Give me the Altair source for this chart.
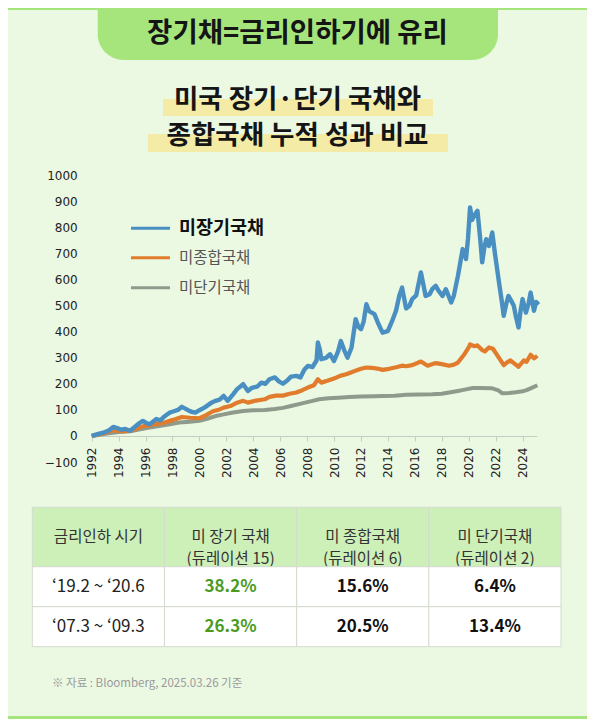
import altair as alt
import pandas as pd

# ---------------- data ----------------
series_names = ["미장기국채", "미종합국채", "미단기국채"]
series_colors = ["#4A8FC1", "#E07C2C", "#8F9A8C"]

long_years = [1992.0, 1992.5, 1993.0, 1993.3, 1993.6, 1993.9, 1994.2, 1994.5, 1994.85, 1995.2,
              1995.5, 1995.8, 1996.05, 1996.3, 1996.55, 1996.8, 1997.1, 1997.4, 1997.8, 1998.1,
              1998.4, 1998.7, 1998.95, 1999.2, 1999.4, 1999.7, 2000.0, 2000.4, 2000.9, 2001.2,
              2001.5, 2001.8, 2002.1, 2002.5, 2002.8, 2003.25, 2003.6, 2003.9, 2004.3, 2004.6,
              2004.9, 2005.2, 2005.6, 2005.9, 2006.2, 2006.5, 2006.8, 2007.2, 2007.5, 2007.8,
              2008.05, 2008.4, 2008.7, 2008.8, 2008.95, 2009.05, 2009.4, 2009.7, 2010.0, 2010.3,
              2010.5, 2010.75, 2011.0, 2011.3, 2011.6, 2011.8, 2012.0, 2012.2, 2012.4, 2012.6,
              2013.0, 2013.3, 2013.6, 2013.8, 2014.0, 2014.3, 2014.6, 2014.85, 2015.05, 2015.35,
              2015.6, 2015.8, 2016.1, 2016.45, 2016.6, 2016.8, 2017.1, 2017.3, 2017.55, 2017.8,
              2018.05, 2018.3, 2018.7, 2018.9, 2019.2, 2019.55, 2019.8, 2019.95, 2020.1, 2020.25,
              2020.4, 2020.65, 2020.85, 2021.0, 2021.15, 2021.3, 2021.5, 2021.75, 2021.95, 2022.25,
              2022.45, 2022.6, 2022.8, 2022.95, 2023.15, 2023.35, 2023.5, 2023.7, 2023.85, 2024.0,
              2024.25, 2024.45, 2024.6, 2024.85, 2025.0, 2025.2]
long_vals = [0, 8, 15, 22, 35, 30, 24, 27, 20, 35,
             48, 58, 50, 45, 55, 65, 60, 75, 90, 95,
             100, 112, 105, 98, 93, 90, 99, 110, 128, 135,
             140, 154, 135, 160, 180, 199, 173, 185, 190, 205,
             200, 218, 225, 210, 201, 212, 228, 231, 225, 255,
             269, 265, 290, 359, 330, 295, 300, 314, 288, 325,
             365, 330, 301, 340, 449, 420, 410, 440, 506, 480,
             468, 430, 397, 400, 404, 440, 481, 540, 570, 490,
             500, 526, 540, 628, 590, 538, 545, 565, 577, 555,
             538, 564, 513, 540, 615, 718, 680, 760, 878, 830,
             846, 865, 760, 667, 720, 756, 730, 782, 700, 590,
             520, 462, 510, 538, 520, 500, 460, 417, 480, 526,
             474, 510, 551, 481, 515, 505]

agg_years = [1992.0, 1992.5, 1993.0, 1993.6, 1994.2, 1994.85, 1995.4, 1996.0, 1996.3, 1996.8,
             1997.3, 1997.8, 1998.2, 1998.7, 1999.3, 2000.0, 2000.5, 2001.0, 2001.5, 2001.8,
             2002.3, 2002.8, 2003.25, 2003.6, 2004.2, 2004.85, 2005.2, 2005.7, 2006.2, 2006.7,
             2007.2, 2007.6, 2008.05, 2008.5, 2008.8, 2009.05, 2009.5, 2010.15, 2010.5, 2010.9,
             2011.3, 2011.65, 2012.0, 2012.4, 2012.8, 2013.3, 2013.6, 2014.1, 2014.6, 2015.05,
             2015.35, 2015.8, 2016.45, 2016.95, 2017.55, 2018.0, 2018.55, 2018.9, 2019.2, 2019.65,
             2020.0, 2020.1, 2020.4, 2020.65, 2021.0, 2021.2, 2021.5, 2021.8, 2022.25, 2022.6,
             2022.9, 2023.1, 2023.4, 2023.7, 2024.1, 2024.3, 2024.6, 2024.85, 2025.1]
agg_vals = [0, 6, 12, 22, 18, 20, 30, 40, 41, 46,
            50, 58, 64, 73, 70, 68, 80, 95, 102, 109,
            115, 128, 135, 128, 136, 141, 150, 155, 155, 162,
            167, 175, 186, 195, 218, 205, 212, 224, 232, 237,
            245, 252, 258, 263, 262, 258, 254, 258, 264, 270,
            268, 272, 286, 270, 280, 276, 270, 274, 282, 312,
            340, 352, 345, 348, 330, 325, 340, 335, 300, 272,
            285, 290, 278, 266, 290, 285, 312, 298, 308]

short_years = [1992.0, 1993.0, 1994.0, 1994.85, 1995.5, 1996.3, 1997.0, 1997.8, 1998.5, 1999.3,
               2000.0, 2000.7, 2001.3, 2001.8, 2002.5, 2003.25, 2004.0, 2004.85, 2005.6, 2006.2,
               2006.8, 2007.7, 2008.4, 2008.9, 2009.6, 2010.3, 2011.15, 2012.0, 2013.0, 2013.6,
               2014.5, 2015.35, 2016.3, 2017.3, 2018.0, 2018.55, 2019.2, 2019.8, 2020.3, 2020.8,
               2021.75, 2022.2, 2022.5, 2023.0, 2023.5, 2024.0, 2024.25, 2024.6, 2025.1]
short_vals = [0, 8, 15, 18, 25, 32, 38, 45, 52, 55,
              58, 68, 78, 83, 90, 96, 99, 100, 104, 108,
              115, 126, 135, 141, 145, 147, 150, 152, 153, 154,
              155, 158, 159, 160, 162, 167, 173, 179, 184, 184,
              183, 175, 164, 165, 168, 172, 175, 183, 195]

y_ticks = [-100, 0, 100, 200, 300, 400, 500, 600, 700, 800, 900, 1000]
x_ticks = [1992, 1994, 1996, 1998, 2000, 2002, 2004, 2006, 2008, 2010,
           2012, 2014, 2016, 2018, 2020, 2022, 2024]

header_text = ["장기채=금리인하기에 유리"]
title_lines = ["미국 장기·단기 국채와", "종합국채 누적 성과 비교"]

table_cols = ["금리인하 시기", "미 장기 국채\n(듀레이션 15)", "미 종합국채\n(듀레이션 6)", "미 단기국채\n(듀레이션 2)"]
table_periods = ["‘19.2 ~ ‘20.6", "‘07.3 ~ ‘09.3"]
long_ret = ["38.2%", "26.3%"]
agg_ret = ["15.6%", "20.5%"]
short_ret = ["6.4%", "13.4%"]
source_note = ["※ 자료 : Bloomberg, 2025.03.26 기준"]

# ---------------- styling ----------------
KR = "Noto Sans CJK KR"
NUM = "DejaVu Sans"
BG = "#EBF9E3"
TAB = "#A6E57C"
HL = "#F4ECA6"
W, H = 579, 711

one = pd.DataFrame({"k": [0]})

# decorations
top_strip = alt.Chart(one).mark_rect(color=TAB).encode(
    x=alt.value(0), x2=alt.value(W), y=alt.value(0), y2=alt.value(2))
tab = alt.Chart(one).mark_rect(color=TAB, cornerRadiusBottomLeft=26, cornerRadiusBottomRight=26).encode(
    x=alt.value(89.7), x2=alt.value(490), y=alt.value(0), y2=alt.value(52))
bottom_strip = alt.Chart(one).mark_rect(color=TAB).encode(
    x=alt.value(0), x2=alt.value(W), y=alt.value(708), y2=alt.value(H))
hl1 = alt.Chart(one).mark_rect(color=HL).encode(
    x=alt.value(155), x2=alt.value(425), y=alt.value(91), y2=alt.value(108))
hl2 = alt.Chart(one).mark_rect(color=HL).encode(
    x=alt.value(140), x2=alt.value(440), y=alt.value(126), y2=alt.value(144))

head = alt.Chart(pd.DataFrame({"t": header_text})).mark_text(
    font=KR, fontSize=27.5, fontWeight="bold", color="#151515").encode(
    x=alt.value(289.5), y=alt.value(26), text="t:N")
t1 = alt.Chart(pd.DataFrame({"t": title_lines[:1]})).mark_text(
    font=KR, fontSize=26.5, fontWeight="bold", color="#151515").encode(
    x=alt.value(289.5), y=alt.value(91.5), text="t:N")
t2 = alt.Chart(pd.DataFrame({"t": title_lines[1:]})).mark_text(
    font=KR, fontSize=26.5, fontWeight="bold", color="#151515").encode(
    x=alt.value(289.5), y=alt.value(127.5), text="t:N")

# lines
frames = []
for name, ys, vs in zip(series_names, [long_years, agg_years, short_years], [long_vals, agg_vals, short_vals]):
    frames.append(pd.DataFrame({"year": ys, "value": vs, "series": name}))
lines_df = pd.concat(frames, ignore_index=True)

base = alt.Chart(lines_df).encode(
    x=alt.X("year:Q",
            scale=alt.Scale(domain=[1992, 2025.05], range=[83.7, 528.7], nice=False, zero=False),
            axis=alt.Axis(values=x_ticks, format="d", labelAngle=270, labelFont=NUM, labelFontSize=12,
                          labelColor="#222", tickColor="#C6CDC2", domainColor="#C6CDC2", tickSize=5,
                          labelPadding=6, grid=False, title=None, offset=-(H - 428), labelFlush=False,
                          labelOverlap=False)),
    y=alt.Y("value:Q",
            scale=alt.Scale(domain=[-100, 1000], range=[454, 167.7], nice=False, zero=False),
            axis=alt.Axis(values=y_ticks, format="d", labelFont=NUM, labelFontSize=12, labelColor="#222",
                          domain=False, ticks=False, grid=False, labelPadding=14.5, offset=-83.7,
                          title=None, labelFlush=False, labelOverlap=False)),
    color=alt.Color("series:N", scale=alt.Scale(domain=series_names, range=series_colors), legend=None),
)
widths = {"미장기국채": 4.4, "미종합국채": 4.2, "미단기국채": 4.0}
lines = alt.layer(*[
    base.transform_filter(alt.datum.series == name).mark_line(strokeWidth=widths[name], strokeJoin="round")
    for name in reversed(series_names)
])

# manual legend
leg = []
leg_y = [220.3, 249.7, 279.7]
for i, (name, col) in enumerate(zip(series_names, series_colors)):
    d = pd.DataFrame({"s": [name]})
    leg.append(alt.Chart(d).mark_rule(color=col, strokeWidth=3).encode(
        x=alt.value(123), x2=alt.value(162), y=alt.value(leg_y[i])))
    if i == 0:
        leg.append(alt.Chart(d).mark_text(font=KR, fontSize=18.5, fontWeight="bold", color="#111",
                                          align="left").encode(x=alt.value(171), y=alt.value(leg_y[i]), text="s:N"))
    else:
        leg.append(alt.Chart(d).mark_text(font=KR, fontSize=15.5, color="#555",
                                          align="left").encode(x=alt.value(171), y=alt.value(leg_y[i]), text="s:N"))

# table
xcol = alt.X("col:N", sort=table_cols,
             scale=alt.Scale(domain=table_cols, range=[24.3, 553], paddingInner=0, paddingOuter=0), axis=None)
hdr_df = pd.DataFrame({"col": table_cols, "row": ["h"] * 4})
th = alt.Chart(hdr_df).encode(
    x=xcol,
    y=alt.Y("row:N", scale=alt.Scale(domain=["h"], range=[499.3, 558.7], paddingInner=0, paddingOuter=0), axis=None))
thead = alt.layer(
    th.mark_rect(fill="#CDEFB8", stroke="#D3DBCF", strokeWidth=1),
    th.mark_text(font=KR, fontSize=15.5, color="#333", lineBreak="\n", lineHeight=22).encode(text="col:N"),
)

rows = []
for i, p in enumerate(table_periods):
    rows.append({"period": p, "col": table_cols[0], "val": p})
    rows.append({"period": p, "col": table_cols[1], "val": long_ret[i]})
    rows.append({"period": p, "col": table_cols[2], "val": agg_ret[i]})
    rows.append({"period": p, "col": table_cols[3], "val": short_ret[i]})
body_df = pd.DataFrame(rows)
tb = alt.Chart(body_df).encode(
    x=xcol,
    y=alt.Y("period:N", sort=table_periods,
            scale=alt.Scale(domain=table_periods, range=[558.7, 638.7], paddingInner=0, paddingOuter=0), axis=None))
tbody = alt.layer(
    tb.mark_rect(fill="#FFFFFF", stroke="#D3DBCF", strokeWidth=1),
    tb.transform_filter(alt.datum.col == table_cols[0]).mark_text(
        font=KR, fontSize=17, color="#222").encode(text="val:N"),
    tb.transform_filter(alt.datum.col == table_cols[1]).mark_text(
        font=KR, fontSize=17, fontWeight="bold", color="#4B9B1F").encode(text="val:N"),
    tb.transform_filter(alt.FieldOneOfPredicate(field="col", oneOf=table_cols[2:])).mark_text(
        font=KR, fontSize=17, fontWeight="bold", color="#111").encode(text="val:N"),
)

note = alt.Chart(pd.DataFrame({"t": source_note})).mark_text(
    font=KR, fontSize=11.5, color="#9A9A9A", align="left").encode(
    x=alt.value(44), y=alt.value(676), text="t:N")

chart = alt.layer(
    top_strip, tab, bottom_strip, hl1, hl2, head, t1, t2,
    lines, *leg, thead, tbody, note
).resolve_scale(
    x="independent", y="independent"
).properties(
    width=W, height=H, background=BG, padding=0
).configure_view(stroke=None)

chart.save("out.html", embed_options={"renderer": "svg", "actions": False})
